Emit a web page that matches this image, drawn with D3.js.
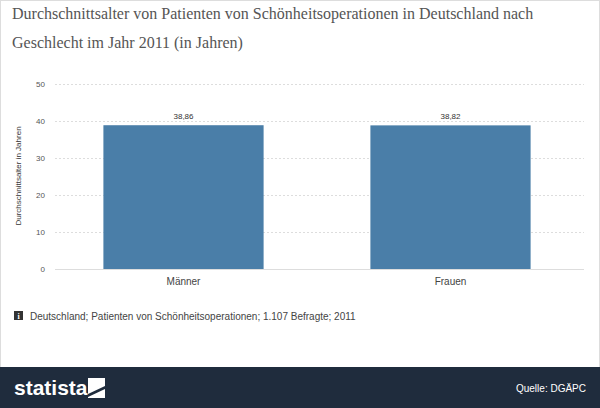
<!DOCTYPE html>
<html><head><meta charset="utf-8">
<script src="https://cdn.jsdelivr.net/npm/d3@7"></script>
<style>body{margin:0;background:#fff}</style>
</head><body>
<script>
var categories = ["Männer", "Frauen"];
var values = [38.86, 38.82];
var yTicks = [0, 10, 20, 30, 40, 50];

var svg = d3.select("body").append("svg").attr("width", 600).attr("height", 408);
svg.append("rect").attr("x", 0.5).attr("y", 0.5).attr("width", 599).attr("height", 407)
    .attr("fill", "#fff").attr("stroke", "#ddd");

svg.append("text").attr("x", 12).attr("y", 19).attr("font-family", "Liberation Serif, serif")
    .attr("font-size", 16).attr("fill", "#555")
    .text("Durchschnittsalter von Patienten von Schönheitsoperationen in Deutschland nach");
svg.append("text").attr("x", 12).attr("y", 48).attr("font-family", "Liberation Serif, serif")
    .attr("font-size", 16).attr("fill", "#555")
    .text("Geschlecht im Jahr 2011 (in Jahren)");

var x = d3.scaleBand().domain(categories).range([50, 584]).paddingInner(0.4).paddingOuter(0.2);
var y = d3.scaleLinear().domain([0, 50]).range([269, 84]);

var g = svg.append("g").attr("font-family", "Arial, Liberation Sans, sans-serif");
g.selectAll(".grid").data(yTicks).enter().append("line")
    .attr("x1", 55).attr("x2", 584)
    .attr("y1", function(d){ return y(d) + 0.5; }).attr("y2", function(d){ return y(d) + 0.5; })
    .attr("stroke", "#ddd").attr("stroke-dasharray", function(d){ return d == 0 ? null : "2,2"; });
g.selectAll(".yt").data(yTicks).enter().append("text")
    .attr("x", 45).attr("y", function(d){ return y(d) + 3; })
    .attr("text-anchor", "end").attr("font-size", 8).attr("fill", "#555").text(function(d){ return d; });
g.append("text").attr("transform", "translate(21,176) rotate(-90)").attr("text-anchor", "middle")
    .attr("font-size", 8).attr("fill", "#333").text("Durchschnittsalter in Jahren");

g.selectAll(".bar").data(values).enter().append("rect")
    .attr("x", function(d, i){ return x(categories[i]); })
    .attr("width", x.bandwidth())
    .attr("y", function(d){ return y(d); })
    .attr("height", function(d){ return y(0) - y(d); })
    .attr("fill", "#4a7ea8");
g.selectAll(".val").data(values).enter().append("text")
    .attr("x", function(d, i){ return x(categories[i]) + x.bandwidth() / 2; })
    .attr("y", function(d){ return y(d) - 6; })
    .attr("text-anchor", "middle").attr("font-size", 8).attr("fill", "#333")
    .text(function(d){ return d.toFixed(2).replace(".", ","); });
g.selectAll(".cat").data(categories).enter().append("text")
    .attr("x", function(d){ return x(d) + x.bandwidth() / 2; }).attr("y", 285)
    .attr("text-anchor", "middle").attr("font-size", 10).attr("fill", "#444").text(function(d){ return d; });

svg.append("rect").attr("x", 14).attr("y", 311).attr("width", 9).attr("height", 9).attr("fill", "#333");
svg.append("text").attr("x", 18.5).attr("y", 318.5).attr("text-anchor", "middle").attr("font-size", 8)
    .attr("font-weight", "bold").attr("fill", "#fff").attr("font-family", "Liberation Serif, serif").text("i");
svg.append("text").attr("x", 30).attr("y", 320).attr("font-size", 10).attr("fill", "#444")
    .attr("font-family", "Arial, Liberation Sans, sans-serif")
    .text("Deutschland; Patienten von Schönheitsoperationen; 1.107 Befragte; 2011");

svg.append("rect").attr("x", 0).attr("y", 367).attr("width", 600).attr("height", 41).attr("fill", "#1f2c3d");
svg.append("text").attr("x", 14).attr("y", 395).attr("font-size", 21).attr("font-weight", "bold")
    .attr("fill", "#fff").attr("font-family", "Arial, Liberation Sans, sans-serif").text("statista");
svg.append("path").attr("d", "M88,378 h17 v8 l-17,8 z M88,397 l17,-8 v9 h-17 z").attr("fill", "#fff");
svg.append("text").attr("x", 586).attr("y", 392).attr("text-anchor", "end").attr("font-size", 10)
    .attr("fill", "#fff").attr("font-family", "Arial, Liberation Sans, sans-serif").text("Quelle: DGÄPC");
</script>
</body></html>
